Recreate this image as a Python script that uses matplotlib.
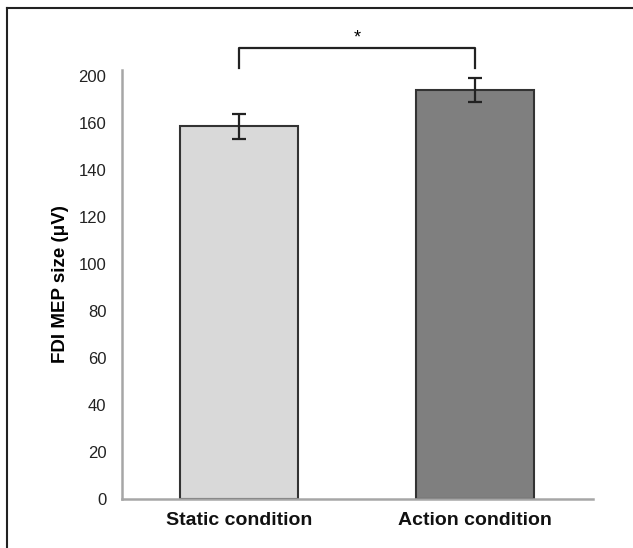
import matplotlib.pyplot as plt
from matplotlib.lines import Line2D

plt.rcParams['font.family'] = ['Liberation Sans', 'DejaVu Sans']

# data
conditions = ['Static condition', 'Action condition']
mep_size = [158.5, 174.0]
sem = [5.3, 5.0]
bar_colors = ['#d9d9d9', '#7f7f7f']
# tick labels as printed (top label reads 200 at the 180 step)
ytick_vals = [0, 20, 40, 60, 80, 100, 120, 140, 160, 180]
ytick_text = ['0', '20', '40', '60', '80', '100', '120', '140', '160', '200']
bracket_y = 192.0
bracket_leg = 183.5

fig = plt.figure(figsize=(6.33, 5.48), dpi=100)
ax = fig.add_axes([0.192, 0.0894, 0.745, 0.783])

x = range(len(conditions))
ax.bar(x, mep_size, width=0.5, color=bar_colors, edgecolor='#333333', linewidth=1.5,
       yerr=sem, error_kw=dict(ecolor='#222222', elinewidth=1.6, capsize=5, capthick=1.6))

ax.set_xlim(-0.5, 1.5)
ax.set_ylim(0, 182.5)
ax.set_yticks(ytick_vals)
ax.set_yticklabels(ytick_text, fontsize=12, color='#222222')
ax.set_xticks(list(x))
ax.set_xticklabels(conditions, fontsize=14, fontweight='bold', color='#111111')
ax.tick_params(axis='y', length=0, pad=11)
ax.tick_params(axis='x', length=0, pad=9)
ax.set_ylabel('FDI MEP size (μV)', fontsize=13.5, fontweight='bold', labelpad=7)

for s in ['top', 'right']:
    ax.spines[s].set_visible(False)
for s in ['left', 'bottom']:
    ax.spines[s].set_color('#a6a6a6')
    ax.spines[s].set_linewidth(1.8)

# significance bracket
ax.plot([0, 0, 1, 1], [bracket_leg, bracket_y, bracket_y, bracket_leg],
        color='#222222', linewidth=1.6, clip_on=False)
ax.text(0.5, bracket_y + 0.5, '*', ha='center', va='bottom', fontsize=13, clip_on=False)

# frame lines at top and left of the image
fig.add_artist(Line2D([7 / 633, 1], [1 - 8 / 548, 1 - 8 / 548], color='#222222', linewidth=1.5))
fig.add_artist(Line2D([7 / 633, 7 / 633], [0, 1 - 8 / 548], color='#222222', linewidth=1.5))

fig.savefig('out.png', dpi=100)
